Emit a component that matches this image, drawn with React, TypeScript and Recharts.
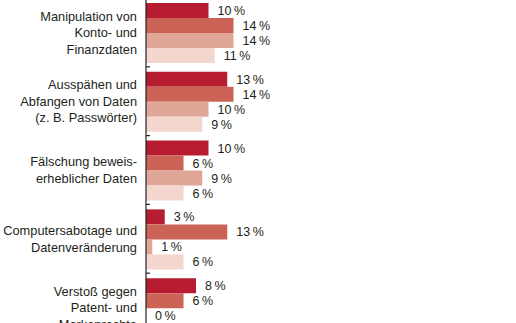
import { BarChart, Bar, XAxis, YAxis, LabelList } from 'recharts';

// categories as line-broken labels (chart is cut off at top and bottom)
const categories = [
  ['Manipulation von', 'Konto- und', 'Finanzdaten'],
  ['Ausspähen und', 'Abfangen von Daten', '(z. B. Passwörter)'],
  ['Fälschung beweis-', 'erheblicher Daten'],
  ['Computersabotage und', 'Datenveränderung'],
  ['Verstoß gegen', 'Patent- und', 'Markenrechte'],
];

const series1 = [10, 13, 10, 3, 8];
const series2 = [14, 14, 6, 13, 6];
const series3 = [14, 10, 9, 1, 0];
const series4 = [11, 9, 6, 6, 6];

const colors = ['#b81c31', '#cb6457', '#e0a697', '#f3d6cd'];

const data = categories.map((lines, i) => ({
  name: lines.join('\n'),
  s1: series1[i],
  s2: series2[i],
  s3: series3[i],
  s4: series4[i],
}));

const CHART_W = 516;
const CHART_H = 372;
const MARGIN = { top: 18, right: 120, bottom: 10, left: 0 };
const BAND = (CHART_H - MARGIN.top - MARGIN.bottom) / categories.length;
const FONT = '"Liberation Sans", Arial, sans-serif';

function CategoryTick(props: any) {
  const { x, y, payload } = props;
  const lines: string[] = String(payload.value).split('\n');
  const lh = 16.5;
  const start = -((lines.length - 1) / 2) * lh;
  const axisX = x + 9;
  return (
    <g>
      <text
        x={x}
        y={y}
        textAnchor="end"
        fontFamily={FONT}
        fontSize={12.8}
        fill="#231f20"
      >
        {lines.map((l, i) => (
          <tspan key={i} x={x} y={y + start + i * lh} dy="0.36em">
            {l}
          </tspan>
        ))}
      </text>
      <line x1={axisX} x2={axisX + 4} y1={y + BAND / 2} y2={y + BAND / 2} stroke="#231f20" strokeWidth={1.2} />
    </g>
  );
}

const fmt = (v: any) => `${v}\u2009%`;

export default function App() {
  const keys = ['s1', 's2', 's3', 's4'];
  return (
    <div
      style={{
        position: 'absolute',
        top: 0,
        left: 0,
        width: 516,
        height: 323,
        overflow: 'hidden',
        background: '#fff',
      }}
    >
      <div style={{ position: 'absolute', top: -20, left: 0 }}>
        <BarChart
          width={CHART_W}
          height={CHART_H}
          data={data}
          layout="vertical"
          margin={MARGIN}
          barCategoryGap={5}
          barGap={0}
        >
          <XAxis type="number" domain={[0, 40]} hide />
          <YAxis
            type="category"
            dataKey="name"
            width={146}
            tickLine={false}
            tickMargin={3}
            axisLine={{ stroke: '#231f20', strokeWidth: 1.2 }}
            tick={<CategoryTick />}
            interval={0}
          />
          {keys.map((k, i) => (
            <Bar key={k} dataKey={k} fill={colors[i]} minPointSize={0.01} isAnimationActive={false}>
              <LabelList
                dataKey={k}
                position="right"
                offset={9}
                formatter={fmt}
                style={{ fontFamily: FONT, fontSize: 12.5, fill: '#231f20' }}
              />
            </Bar>
          ))}
        </BarChart>
      </div>
    </div>
  );
}
